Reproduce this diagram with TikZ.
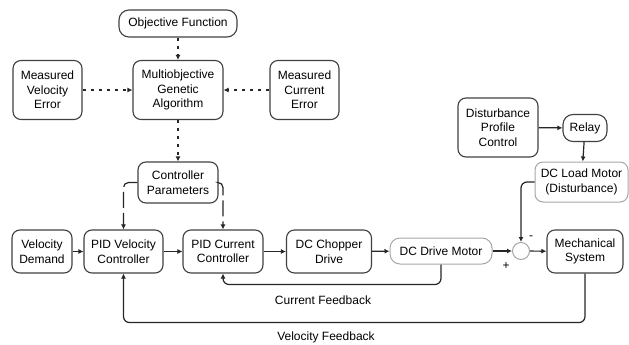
\documentclass[tikz,border=0pt]{standalone}
\usepackage{fontspec}
\setmainfont{Liberation Sans}
\usetikzlibrary{arrows.meta,calc}
\begin{document}
\begin{tikzpicture}[x=1pt,y=-1pt,
  font=\fontsize{12}{14.5}\selectfont,
  blk/.style={draw=black!75,line width=1.1pt,rounded corners=8pt,align=center,inner sep=1pt},
  lblk/.style={draw=black!35,line width=1pt,rounded corners=8pt,align=center,inner sep=1pt},
  conn/.style={draw=black!85,line width=1.2pt,-{Latex[length=5pt,width=5pt]}},
  dotc/.style={conn,dash pattern=on 3pt off 5pt},
  dashc/.style={conn,dash pattern=on 16pt off 5pt,rounded corners=5pt},
  fb/.style={conn,rounded corners=6pt}]
\useasboundingbox (0,0) rectangle (629,345);
\node[blk,minimum width=118pt,minimum height=27pt,rounded corners=10pt] (obj) at (178,23.5) {Objective Function};
\node[blk,minimum width=90pt,minimum height=59pt] (mga) at (178,90) {Multiobjective\\Genetic\\Algorithm};
\node[blk,minimum width=69pt,minimum height=59pt] (mve) at (47.5,90) {Measured\\Velocity\\Error};
\node[blk,minimum width=69pt,minimum height=59pt] (mce) at (304.5,90) {Measured\\Current\\Error};
\node[blk,minimum width=80pt,minimum height=41pt] (cp) at (178,182.5) {Controller\\Parameters};
\node[blk,minimum width=60pt,minimum height=43pt] (vd) at (42,251.5) {Velocity\\Demand};
\node[blk,minimum width=79pt,minimum height=43pt] (pidv) at (123.5,251.5) {PID Velocity\\Controller};
\node[blk,minimum width=80pt,minimum height=43pt] (pidc) at (223,251.5) {PID Current\\Controller};
\node[blk,minimum width=85pt,minimum height=43pt] (chop) at (329,251.5) {DC Chopper\\Drive};
\node[lblk,minimum width=102pt,minimum height=26pt,rounded corners=10pt] (dm) at (441,251) {DC Drive Motor};
\node[draw=black!35,line width=1pt,circle,minimum size=17pt,inner sep=0pt] (sum) at (521,251) {};
\node[blk,minimum width=76pt,minimum height=43pt] (mech) at (585,251.5) {Mechanical\\System};
\node[lblk,minimum width=93pt,minimum height=40pt] (lm) at (581.5,182) {DC Load Motor\\(Disturbance)};
\node[blk,minimum width=80pt,minimum height=59pt] (dpc) at (498,127.5) {Disturbance\\Profile\\Control};
\node[blk,minimum width=44pt,minimum height=27pt,rounded corners=10pt] (relay) at (585,128) {Relay};
\node (minus) at (531,238) {-};
\node (plus) at (506,266) {+};
\node (cfl) at (323,300) {Current Feedback};
\node (vfl) at (326,337) {Velocity Feedback};
% dotted
\draw[dotc] (obj) -- (mga);
\draw[dotc] (mga) -- (cp);
\draw[dotc] (mve) -- (mga);
\draw[dotc] (mce) -- (mga);
% dashed controller parameters
\draw[dashc] (cp.west) -| (pidv.north);
\draw[dashc] (cp.east) -| (pidc.north);
% forward path
\draw[conn] (vd) -- (pidv);
\draw[conn] (pidv) -- (pidc);
\draw[conn] (pidc) -- (chop);
\draw[conn] (chop) -- (dm);
\draw[conn] (dm) -- (sum);
\draw[conn] (sum) -- (mech);
\draw[conn] (dpc) -- (relay);
\draw[conn] (relay) -- (lm);
\draw[fb] (lm.west) -| (sum.north);
% feedback
\draw[fb] (dm.south) -- ++(0,20) -| (pidc.south);
\draw[fb] (mech.south) -- ++(0,49) -| (pidv.south);
\end{tikzpicture}
\end{document}
